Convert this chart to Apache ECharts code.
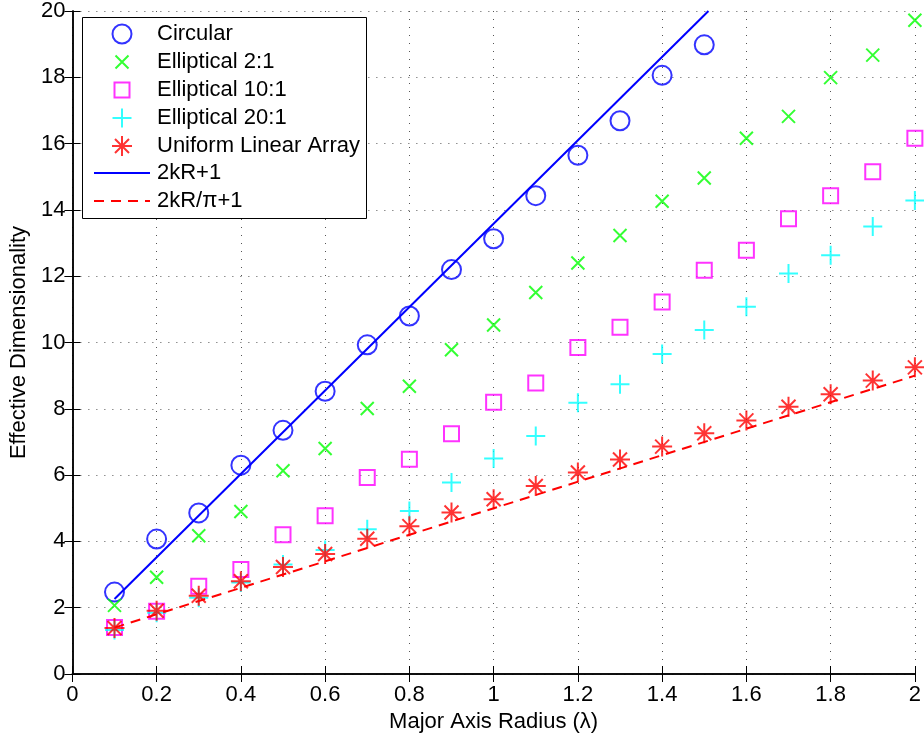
<!DOCTYPE html>
<html>
<head>
<meta charset="utf-8">
<script src="https://cdn.jsdelivr.net/npm/echarts@6/dist/echarts.min.js"></script>
<style>
  html, body { margin: 0; padding: 0; background: #fff; }
  #chart { width: 924px; height: 738px; }
</style>
</head>
<body>
<div id="chart"></div>
<script>
// Major axis radius (in wavelengths) for every measured aperture
const radius = [0.1, 0.2, 0.3, 0.4, 0.5, 0.6, 0.7, 0.8, 0.9, 1.0,
                1.1, 1.2, 1.3, 1.4, 1.5, 1.6, 1.7, 1.8, 1.9, 2.0];

// Effective dimensionality per aperture shape
const circular = [2.47, 4.07, 4.86, 6.30, 7.35, 8.53, 9.93, 10.80, 12.20, 13.13,
                  14.43, 15.65, 16.69, 18.06, 18.98];
const elliptical2 = [2.07, 2.92, 4.17, 4.90, 6.13, 6.80, 8.01, 8.68, 9.78, 10.53,
                     11.51, 12.40, 13.23, 14.26, 14.96, 16.16, 16.82, 17.99, 18.67, 19.72];
const elliptical10 = [1.40, 1.89, 2.65, 3.15, 4.20, 4.77, 5.93, 6.48, 7.25, 8.20,
                      8.78, 9.85, 10.46, 11.22, 12.18, 12.78, 13.73, 14.43, 15.15, 16.16];
const elliptical20 = [1.33, 1.85, 2.30, 2.76, 3.30, 3.74, 4.37, 4.92, 5.78, 6.50,
                      7.18, 8.18, 8.74, 9.65, 10.38, 11.08, 12.08, 12.63, 13.50, 14.28];
const linearArray = [1.39, 1.91, 2.36, 2.80, 3.23, 3.62, 4.08, 4.46, 4.87, 5.27,
                     5.67, 6.08, 6.47, 6.86, 7.26, 7.65, 8.06, 8.44, 8.85, 9.25];

// Reference bounds (straight lines, given by their end points)
const boundCircleX = [0.1, 1.51];
const boundCircleY = [2.26, 20.0];
const boundLineX = [0.1, 2.0];
const boundLineY = [1.4, 9.0];

// Tick labels
const xTickLabels = ['0', '0.2', '0.4', '0.6', '0.8', '1', '1.2', '1.4', '1.6', '1.8', '2'];
const yTickLabels = ['0', '2', '4', '6', '8', '10', '12', '14', '16', '18', '20'];

const FONT = '"Liberation Sans", Arial, Helvetica, sans-serif';

// Stroke-only marker shapes
const SYM_X = 'path://M-1,-1L1,1M-1,1L1,-1';
const SYM_PLUS = 'path://M0,-1L0,1M-1,0L1,0';
const SYM_SQUARE = 'path://M-1,-1L1,-1L1,1L-1,1Z';
const SYM_STAR = 'path://M0,-1L0,1M-1,0L1,0M-0.7,-0.7L0.7,0.7M-0.7,0.7L0.7,-0.7';

const zip = (xs, ys) => ys.map((y, i) => [xs[i], y]);

const markerSeries = [
  { name: 'Circular', values: circular, color: '#0000ff', symbol: 'circle', size: 19 },
  { name: 'Elliptical 2:1', values: elliptical2, color: '#00ff00', symbol: SYM_X, size: 13 },
  { name: 'Elliptical 10:1', values: elliptical10, color: '#ff00ff', symbol: SYM_SQUARE, size: 15 },
  { name: 'Elliptical 20:1', values: elliptical20, color: '#00ffff', symbol: SYM_PLUS, size: 19 },
  { name: 'Uniform Linear Array', values: linearArray, color: '#ff0000', symbol: SYM_STAR, size: 20 }
];

const lineSeries = [
  { name: '2kR+1', xs: boundCircleX, ys: boundCircleY, color: '#0000ff', type: 'solid' },
  { name: '2kR/\u03c0+1', xs: boundLineX, ys: boundLineY, color: '#ff0000', type: [10, 7] }
];

const series = [];
markerSeries.forEach(m => {
  series.push({
    name: m.name,
    type: 'scatter',
    data: zip(radius, m.values),
    symbol: m.symbol,
    symbolSize: m.size,
    symbolKeepAspect: true,
    itemStyle: { color: 'transparent', borderColor: m.color, borderWidth: 2 },
    emphasis: { disabled: true },
    silent: true,
    z: 2
  });
});
lineSeries.forEach(l => {
  series.push({
    name: l.name,
    type: 'line',
    data: zip(l.xs, l.ys),
    symbol: 'none',
    showSymbol: false,
    clip: true,
    lineStyle: { color: l.color, width: 2, type: l.type },
    itemStyle: { color: l.color },
    emphasis: { disabled: true },
    silent: true,
    z: 3
  });
});

// One legend block per entry, stacked inside a framed box.
// Icons are centred on iconCenterX; labels start at the same column.
const legendRowsY = [34, 62, 90, 118, 146, 173, 201];
const iconCenterX = 121;
const iconBoxWidth = 56;
const legendText = { fontSize: 22, fontFamily: FONT, color: '#000', lineHeight: 22, padding: [0, 0, 0, 2] };
const legends = [];
markerSeries.forEach((m, i) => {
  legends.push({
    data: [{
      name: m.name,
      icon: m.symbol,
      itemStyle: { color: 'transparent', borderColor: m.color, borderWidth: 2 }
    }],
    left: iconCenterX - m.size / 2, top: legendRowsY[i] - 11,
    padding: 0, itemWidth: iconBoxWidth, itemHeight: m.size,
    symbolKeepAspect: true,
    selectedMode: false, z: 10,
    textStyle: legendText
  });
});
lineSeries.forEach((l, j) => {
  legends.push({
    data: [{
      name: l.name,
      itemStyle: { color: 'transparent', borderColor: 'transparent', borderWidth: 0, opacity: 0 }
    }],
    left: iconCenterX - iconBoxWidth / 2, top: legendRowsY[markerSeries.length + j] - 11,
    padding: 0, itemWidth: iconBoxWidth, itemHeight: 18,
    selectedMode: false, z: 10,
    lineStyle: { color: l.color, width: 2, type: l.type },
    textStyle: legendText
  });
});

const gridLine = { color: '#555', width: 1, type: [1, 7] };
const frameLine = { show: true, lineStyle: { color: '#000', width: 1.5 } };
const innerTick = { show: true, inside: true, length: 8, lineStyle: { color: '#000', width: 1 } };
const labelStyle = { fontSize: 22, fontFamily: FONT, color: '#000' };

const option = {
  animation: false,
  backgroundColor: '#fff',
  grid: { left: 71, right: 7, top: 8, bottom: 64, containLabel: false },
  xAxis: [
    {
      type: 'value', min: 0, max: 2, interval: 0.2, position: 'bottom',
      axisLine: frameLine, axisTick: innerTick,
      axisLabel: Object.assign({ margin: 10, formatter: v => xTickLabels[Math.round(v / 0.2)] }, labelStyle),
      splitLine: { show: true, lineStyle: gridLine },
      name: 'Major Axis Radius (\u03bb)', nameLocation: 'middle', nameGap: 33,
      nameTextStyle: labelStyle
    },
    {
      type: 'value', min: 0, max: 2, interval: 0.2, position: 'top',
      axisLine: frameLine, axisTick: innerTick,
      axisLabel: { show: false }, splitLine: { show: false }
    }
  ],
  yAxis: [
    {
      type: 'value', min: 0, max: 20, interval: 2, position: 'left',
      axisLine: frameLine, axisTick: innerTick,
      axisLabel: Object.assign({ margin: 7, formatter: v => yTickLabels[Math.round(v / 2)] }, labelStyle),
      splitLine: { show: true, lineStyle: gridLine },
      name: 'Effective Dimensionality', nameLocation: 'middle', nameGap: 38,
      nameTextStyle: labelStyle
    },
    {
      type: 'value', min: 0, max: 20, interval: 2, position: 'right',
      axisLine: frameLine, axisTick: innerTick,
      axisLabel: { show: false }, splitLine: { show: false }
    }
  ],
  legend: legends,
  graphic: [{
    type: 'rect',
    z: 5,
    shape: { x: 82.5, y: 17.5, width: 284, height: 201 },
    style: { fill: '#fff', stroke: '#000', lineWidth: 1 },
    silent: true
  }],
  series: series
};

const chart = echarts.init(document.getElementById('chart'), null, { renderer: 'canvas' });
chart.setOption(option);
</script>
</body>
</html>
